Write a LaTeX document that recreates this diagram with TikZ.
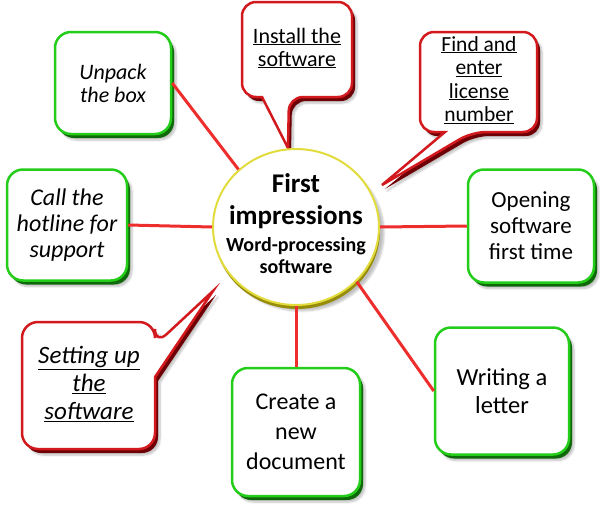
\documentclass[tikz,border=0pt]{standalone}
\usepackage{fontspec}
\setmainfont{Carlito}
\usetikzlibrary{shapes.geometric, shadows.blur}
\definecolor{boxgreen}{RGB}{35,205,25}
\definecolor{boxdark}{RGB}{15,105,10}
\definecolor{callred}{RGB}{210,25,30}
\definecolor{calldark}{RGB}{110,0,5}
\definecolor{hubyellow}{RGB}{225,220,60}
\definecolor{hubdark}{RGB}{150,140,10}
\definecolor{linkred}{RGB}{238,45,45}

\begin{document}
\begin{tikzpicture}[x=1pt, y=-1pt]
  \tikzstyle{softshadow} = [blur shadow={shadow xshift=5pt, shadow yshift=-6pt, shadow opacity=25, shadow blur steps=8}]
  \tikzstyle{gbox} = [draw=boxgreen, line width=2.5pt, fill=white, rounded corners=16pt, align=center, softshadow, preaction={fill=boxdark, transform canvas={shift={(3pt,-4pt)}}}]
  \tikzstyle{cbox} = [draw=callred, line width=2.5pt, fill=white, softshadow, preaction={fill=calldark, transform canvas={shift={(3pt,-4pt)}}}]
  \tikzstyle{hub} = [draw=hubyellow, line width=2pt, fill=white, ellipse, minimum width=166pt, minimum height=156pt, softshadow, preaction={fill=hubdark, transform canvas={shift={(1pt,-4pt)}}}]
  \tikzstyle{link} = [draw=linkred, line width=3pt]
  \useasboundingbox (0,0) rectangle (600,504);

  \draw[cbox] (288,148) -- (262,97) [rounded corners=14pt] -- (242,97) -- (242,2) -- (352,2) -- (352,97) -- (289,97) [sharp corners] -- cycle;
  \draw[cbox] (382,185) -- (445,132) [rounded corners=14pt] -- (420,132) -- (420,32) -- (537,32) -- (537,132) -- (472,132) [sharp corners] -- cycle;
  \draw[cbox] (213,291) -- (155,377) [rounded corners=16pt] -- (155,449) -- (22,449) -- (22,322) -- (155,322) -- (155,345) [sharp corners] -- cycle;

  \node[align=center, font=\fontsize{22}{23}\selectfont] (install) at (297,48) {\underline{Install the}\\\underline{software}};
  \node[align=center, font=\fontsize{21.5}{23.5}\selectfont] (license) at (479,80) {\underline{Find and}\\\underline{enter}\\\underline{license}\\\underline{number}};
  \node[align=center, font=\itshape\fontsize{25}{28}\selectfont] (setup) at (89,384) {\underline{Setting up}\\\underline{the}\\\underline{software}};

  \node[hub] (centre) at (296,227) {};
  \node[align=center, font=\bfseries\fontsize{27}{32}\selectfont] (title) at (296,201) {First\\impressions};
  \node[align=center, font=\bfseries\fontsize{20}{22}\selectfont] (subtitle) at (296,256) {Word-processing\\software};

  \node[gbox, minimum width=116pt, minimum height=102pt, font=\itshape\fontsize{22}{23}\selectfont] (unpack) at (113,83) {Unpack\\the box};
  \node[gbox, minimum width=120pt, minimum height=111pt, font=\itshape\fontsize{24}{26}\selectfont] (hotline) at (67,225) {Call the\\hotline for\\support};
  \node[gbox, minimum width=126pt, minimum height=113pt, font=\fontsize{23}{26}\selectfont] (opening) at (531,226) {Opening\\software\\first time};
  \node[gbox, minimum width=134pt, minimum height=127pt, font=\fontsize{24.5}{28}\selectfont] (letter) at (502,391) {Writing a\\letter};
  \node[gbox, minimum width=128pt, minimum height=128pt, font=\fontsize{24}{30}\selectfont] (create) at (296,432) {Create a\\new\\document};

  \draw[link] (unpack.east) -- (centre.135);
  \draw[link] (hotline.east) -- (centre.west);
  \draw[link] (centre.east) -- (opening.west);
  \draw[link] (centre.south) -- (create.north);
  \draw[link] (centre.-42) -- (letter.west);
\end{tikzpicture}
\end{document}
